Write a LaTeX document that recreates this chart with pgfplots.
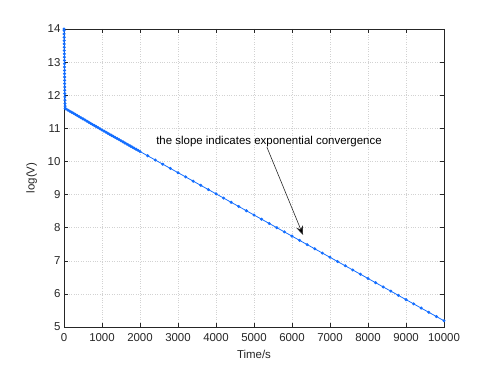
\documentclass[border=0pt]{standalone}
\usepackage{fontspec}
\setmainfont{Liberation Sans}
\usepackage{pgfplots}
\pgfplotsset{compat=1.18}
\usetikzlibrary{arrows.meta}
\definecolor{lineblue}{RGB}{20,110,255}
\definecolor{axgray}{RGB}{38,38,38}

\begin{document}
\begin{tikzpicture}
\begin{axis}[
  scale only axis,
  width=380bp, height=298bp,
  xmin=0, xmax=10000, ymin=5, ymax=14,
  xtick={0,1000,...,10000}, ytick={5,6,...,14},
  scaled x ticks=false,
  /pgf/number format/assume math mode=true,
  /pgf/number format/1000 sep={},
  tick align=inside, tick style={axgray, line width=0.5pt},
  major tick length=4bp,
  axis line style={axgray, line width=0.5pt},
  grid=major, grid style={gray!35, line width=0.4pt, dash pattern=on 0.6pt off 1.8pt},
  tick label style={font=\fontsize{11.5}{13}\selectfont, text=axgray},
  xticklabel style={yshift=-3bp},
  label style={font=\fontsize{11.5}{13}\selectfont, text=axgray},
  xlabel={Time/s}, ylabel={log(V)},
  xlabel style={yshift=-2bp}, ylabel style={yshift=4bp},
]
\addplot[lineblue, line width=0.8pt, mark=*, mark size=1.1pt, mark options={draw=lineblue, fill=lineblue}] coordinates {
(1,14.0) (2,13.95) (3,13.85) (4,13.75) (5,13.65) (6,13.55) (7,13.45) (8,13.35) (9,13.25) (10,13.15) (11,13.05) (12,12.95)
(13,12.85) (14,12.75) (15,12.65) (16,12.55) (17,12.45) (18,12.35) (19,12.25) (20,12.15) (21,12.05) (22,11.95) (24,11.85)
(26,11.75) (28,11.67) (30,11.6)
(50,11.587) (100,11.553) (150,11.520) (200,11.486) (250,11.453) (300,11.419) (350,11.386) (400,11.352) (450,11.319) (500,11.285)
(550,11.252) (600,11.218) (650,11.185) (700,11.151) (750,11.118) (800,11.084) (850,11.051) (900,11.017) (950,10.984) (1000,10.950)
(1050,10.918) (1100,10.885) (1150,10.853) (1200,10.820) (1250,10.788) (1300,10.755) (1350,10.723) (1400,10.690) (1450,10.658) (1500,10.625)
(1550,10.593) (1600,10.560) (1650,10.528) (1700,10.495) (1750,10.463) (1800,10.430) (1850,10.398) (1900,10.365) (1950,10.333) (2000,10.300)
(2200,10.172) (2400,10.044) (2600,9.917) (2800,9.789) (3000,9.661) (3200,9.533) (3400,9.405) (3600,9.278) (3800,9.150) (4000,9.022)
(4200,8.894) (4400,8.766) (4600,8.639) (4800,8.511) (5000,8.383) (5200,8.255) (5400,8.127) (5600,8.000) (5800,7.872) (6000,7.744)
(6200,7.616) (6400,7.488) (6600,7.361) (6800,7.233) (7000,7.105) (7200,6.977) (7400,6.849) (7600,6.722) (7800,6.594) (8000,6.466)
(8200,6.338) (8400,6.210) (8600,6.083) (8800,5.955) (9000,5.827) (9200,5.699) (9400,5.571) (9600,5.444) (9800,5.316) (10000,5.188)
};
\node[font=\fontsize{11.5}{13}\selectfont, text=black] at (axis cs:5395,10.60) {the slope indicates exponential convergence};
\draw[axgray, line width=0.6pt, -{Stealth[length=9bp,width=7bp,fill=black]}] (axis cs:5340,10.43) -- (axis cs:6290,7.78);
\end{axis}
\path[use as bounding box] (current axis.south west) ++(-64bp,-41bp) rectangle ++(491bp,368bp);
\end{tikzpicture}
\end{document}
